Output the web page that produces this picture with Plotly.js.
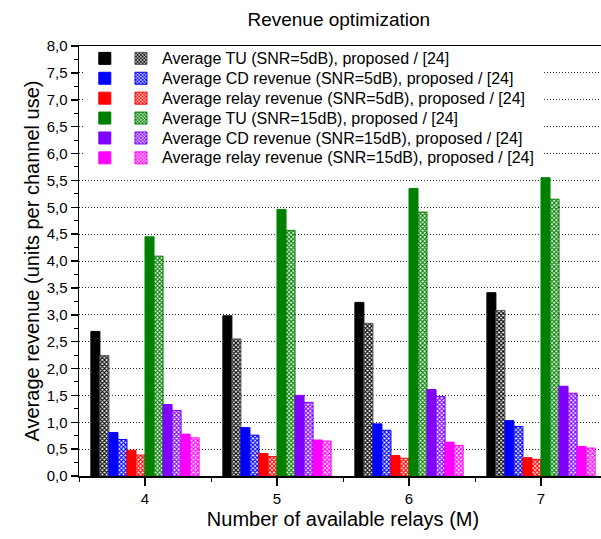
<!DOCTYPE html>
<html>
<head>
<meta charset="utf-8">
<script src="https://cdn.plot.ly/plotly-3.0.1.min.js"></script>
<style>
html, body { margin: 0; padding: 0; overflow: hidden; background: #fff; }
#chart { width: 612px; height: 539px; }
</style>
</head>
<body>
<div id="chart"></div>
<script>
// Number of available relays
const relays = [4, 5, 6, 7];

// Series labels
const seriesNames = [
  "Average TU (SNR=5dB), proposed / [24]",
  "Average CD revenue (SNR=5dB), proposed / [24]",
  "Average relay revenue (SNR=5dB), proposed / [24]",
  "Average TU (SNR=15dB), proposed / [24]",
  "Average CD revenue (SNR=15dB), proposed / [24]",
  "Average relay revenue (SNR=15dB), proposed / [24]"
];

// Values: proposed (solid) and [24] (hatched)
const tu5_proposed    = [2.69, 2.98, 3.23, 3.41];
const tu5_ref         = [2.24, 2.55, 2.84, 3.08];
const cd5_proposed    = [0.81, 0.90, 0.97, 1.03];
const cd5_ref         = [0.68, 0.76, 0.85, 0.92];
const relay5_proposed = [0.48, 0.42, 0.38, 0.34];
const relay5_ref      = [0.39, 0.36, 0.33, 0.31];
const tu15_proposed   = [4.45, 4.96, 5.35, 5.55];
const tu15_ref        = [4.09, 4.57, 4.91, 5.15];
const cd15_proposed   = [1.33, 1.50, 1.61, 1.67];
const cd15_ref        = [1.22, 1.37, 1.48, 1.54];
const relay15_proposed= [0.78, 0.67, 0.63, 0.55];
const relay15_ref     = [0.71, 0.65, 0.57, 0.52];

const colors = ["#000000", "#0000ff", "#ff0000", "#008000", "#7f00ff", "#ff00ff"];
const refOutline = ["#555555", "#0000ff", "#ff0000", "#008000", "#7f00ff", "#ff00ff"];

const pairs = [
  [tu5_proposed, tu5_ref],
  [cd5_proposed, cd5_ref],
  [relay5_proposed, relay5_ref],
  [tu15_proposed, tu15_ref],
  [cd15_proposed, cd15_ref],
  [relay15_proposed, relay15_ref]
];

const traces = [];
pairs.forEach((p, i) => {
  traces.push({
    type: "bar", x: relays, y: p[0], name: " ",
    legend: "legend2",
    marker: { color: colors[i], line: { color: colors[i], width: 1 } },
    hoverinfo: "y"
  });
  traces.push({
    type: "bar", x: relays, y: p[1], name: " ",
    legend: "legend",
    marker: {
      color: colors[i],
      line: { color: refOutline[i], width: 1 },
      pattern: { shape: "x", size: 3, solidity: 0.6, fgcolor: colors[i], bgcolor: "#ffffff", fillmode: "replace" }
    },
    hoverinfo: "y"
  });
});

const font = "Liberation Sans, Arial, sans-serif";

// legend labels as text next to the swatches
const rowTop = 0.9698, rowStep = 0.04605;
const annotations = seriesNames.map((t, k) => ({
  text: t, xref: "paper", yref: "paper", x: 0.153, y: rowTop - k * rowStep,
  xanchor: "left", yanchor: "middle", showarrow: false,
  font: { family: font, size: 16, color: "#000" }
}));

const layout = {
  width: 612, height: 539,
  margin: { l: 79, r: 5, t: 46, b: 63 },
  paper_bgcolor: "#ffffff", plot_bgcolor: "#ffffff",
  separators: ",.",
  font: { family: font, size: 15, color: "#000" },
  barmode: "group", bargap: 0.18, bargroupgap: 0,
  title: { text: "Revenue optimization", font: { family: font, size: 19, color: "#000" },
           x: 0.492, xref: "paper", xanchor: "center", y: 0.965, yref: "container", yanchor: "middle" },
  xaxis: {
    range: [3.5, 7.5], tickvals: relays, ticks: "outside", ticklen: 8, tickwidth: 1.5, tickcolor: "#000",
    minor: { dtick: 0.5, tick0: 3.5, ticks: "outside", ticklen: 4, tickwidth: 1, tickcolor: "#000" },
    showgrid: false, zeroline: false, showline: true, linecolor: "#000", linewidth: 1.5, mirror: true,
    tickfont: { size: 15 },
    title: { text: "Number of available relays (M)", font: { size: 20 }, standoff: 6 }
  },
  yaxis: {
    range: [0, 8], dtick: 0.5, tick0: 0, tickformat: ".1f", ticks: "outside", ticklen: 7, tickwidth: 1.5, tickcolor: "#000",
    minor: { dtick: 0.25, ticks: "outside", ticklen: 4, tickwidth: 1, tickcolor: "#000", showgrid: false },
    showgrid: true, gridcolor: "#222", griddash: "1px,2px", gridwidth: 1,
    zeroline: false, showline: true, linecolor: "#000", linewidth: 1.5, mirror: true,
    tickfont: { size: 15 },
    title: { text: "Average revenue (units per channel use)", font: { size: 20 }, standoff: 1 }
  },
  shapes: [
    { type: "rect", xref: "paper", yref: "paper", x0: 0.011, x1: 0.879, y0: 0.716, y1: 0.993,
      fillcolor: "#ffffff", line: { width: 0 }, layer: "above" }
  ],
  annotations: annotations,
  legend: {
    x: 0.0795, y: 1.006, xanchor: "left", yanchor: "top",
    bgcolor: "rgba(0,0,0,0)", borderwidth: 0, font: { size: 13 }, traceorder: "normal",
    itemclick: false, itemdoubleclick: false
  },
  legend2: {
    x: 0.011, y: 1.006, xanchor: "left", yanchor: "top",
    bgcolor: "rgba(0,0,0,0)", borderwidth: 0, font: { size: 13 }, traceorder: "normal",
    itemclick: false, itemdoubleclick: false
  },
  showlegend: true
};

Plotly.newPlot("chart", traces, layout, { displayModeBar: false, staticPlot: true });
</script>
</body>
</html>
